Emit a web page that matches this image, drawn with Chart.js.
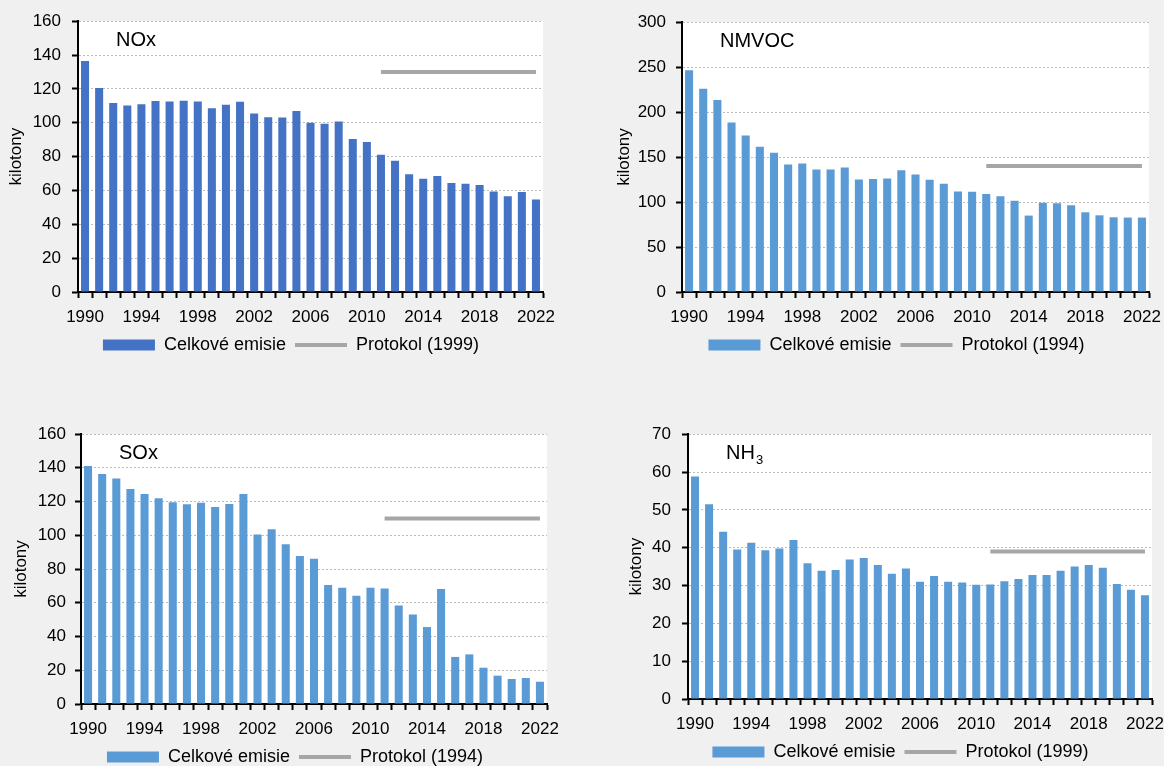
<!DOCTYPE html>
<html>
<head>
<meta charset="utf-8">
<script src="https://cdn.jsdelivr.net/npm/chart.js@4.4.1/dist/chart.umd.min.js"></script>
<style>
  html, body { margin: 0; padding: 0; background: #f0f0f0; width: 1164px; height: 766px; overflow: hidden; position: relative; }
  canvas { position: absolute; }
</style>
</head>
<body>
<canvas id="chartNox"></canvas>
<canvas id="chartNmvoc"></canvas>
<canvas id="chartSox"></canvas>
<canvas id="chartNh3"></canvas>
<script>
// Emission years (categories)
const years = ['1990','1991','1992','1993','1994','1995','1996','1997','1998','1999',
               '2000','2001','2002','2003','2004','2005','2006','2007','2008','2009',
               '2010','2011','2012','2013','2014','2015','2016','2017','2018','2019',
               '2020','2021','2022'];

// Total emissions, kilotonnes
const noxTotal   = [136.5, 120.6, 111.6, 110.2, 111.0, 112.8, 112.6, 113.0, 112.6, 108.5,
                    110.6, 112.4, 105.5, 103.3, 103.1, 106.9, 100.0, 99.4, 100.8, 90.4,
                    88.6, 81.1, 77.6, 69.5, 66.9, 68.5, 64.4, 64.0, 63.2, 59.4,
                    56.5, 59.1, 54.7];
const nmvocTotal = [246.5, 225.8, 213.3, 188.2, 173.8, 161.3, 154.6, 141.7, 142.8, 136.2,
                    136.2, 138.4, 125.1, 125.5, 126.2, 135.4, 130.6, 124.7, 120.3, 111.8,
                    111.4, 108.9, 106.3, 101.5, 84.9, 99.3, 98.5, 96.3, 88.6, 85.2,
                    83.0, 82.7, 82.7];
const soxTotal   = [141.0, 136.3, 133.7, 127.4, 124.4, 121.9, 119.5, 118.3, 119.3, 116.7,
                    118.5, 124.4, 100.5, 103.5, 94.6, 87.7, 86.1, 70.5, 68.9, 64.2,
                    68.9, 68.5, 58.3, 53.1, 45.6, 68.1, 27.9, 29.4, 21.5, 16.8,
                    14.8, 15.4, 13.2];
const nh3Total   = [58.8, 51.5, 44.2, 39.5, 41.3, 39.3, 39.8, 42.0, 35.9, 33.9,
                    34.1, 36.9, 37.3, 35.4, 33.1, 34.5, 31.0, 32.5, 31.0, 30.8,
                    30.2, 30.3, 31.1, 31.7, 32.8, 32.8, 33.9, 35.0, 35.4, 34.7,
                    30.4, 28.9, 27.4];

// Protocol ceilings (shown from 2011 onward)
const noxCeiling   = [null, null, null, null, null, null, null, null, null, null,
                      null, null, null, null, null, null, null, null, null, null,
                      null, 130, 130, 130, 130, 130, 130, 130, 130, 130, 130, 130, 130];
const nmvocCeiling = [null, null, null, null, null, null, null, null, null, null,
                      null, null, null, null, null, null, null, null, null, null,
                      null, 140, 140, 140, 140, 140, 140, 140, 140, 140, 140, 140, 140];
const soxCeiling   = [null, null, null, null, null, null, null, null, null, null,
                      null, null, null, null, null, null, null, null, null, null,
                      null, 110, 110, 110, 110, 110, 110, 110, 110, 110, 110, 110, 110];
const nh3Ceiling   = [null, null, null, null, null, null, null, null, null, null,
                      null, null, null, null, null, null, null, null, null, null,
                      null, 39, 39, 39, 39, 39, 39, 39, 39, 39, 39, 39, 39];

// Y-axis ranges
const noxAxis   = { max: 160, step: 20 };
const nmvocAxis = { max: 300, step: 50 };
const soxAxis   = { max: 160, step: 20 };
const nh3Axis   = { max: 70,  step: 10 };

const totalLabel = 'Celkové emisie';
const FONT = '"Liberation Sans", Arial, sans-serif';

// White plot background
const plotBackground = {
  id: 'plotBackground',
  beforeDraw(chart) {
    const { ctx, chartArea: a } = chart;
    ctx.save();
    ctx.fillStyle = '#ffffff';
    ctx.fillRect(a.left, a.top, a.right - a.left, a.bottom - a.top);
    ctx.restore();
  }
};

// Pollutant name inside the plot, with optional subscript
const pollutantLabel = {
  id: 'pollutantLabel',
  afterDraw(chart, args, opts) {
    if (!opts || !opts.text) return;
    const { ctx, chartArea: a } = chart;
    ctx.save();
    ctx.fillStyle = '#000';
    ctx.textBaseline = 'middle';
    ctx.font = `20px ${FONT}`;
    const x = a.left + opts.dx, y = a.top + opts.dy;
    ctx.fillText(opts.text, x, y);
    if (opts.sub) {
      const w = ctx.measureText(opts.text).width;
      ctx.font = `13px ${FONT}`;
      ctx.fillText(opts.sub, x + w + 1, y + 7);
    }
    ctx.restore();
  }
};

function makePanel(cfg) {
  const el = document.getElementById(cfg.id);
  el.width = cfg.box.w; el.height = cfg.box.h;
  el.style.left = cfg.box.x + 'px'; el.style.top = cfg.box.y + 'px';
  return new Chart(el, {
    data: {
      labels: years,
      datasets: [
        {
          type: 'bar', label: totalLabel, data: cfg.total,
          backgroundColor: cfg.color, borderWidth: 0,
          barPercentage: 0.57, categoryPercentage: 1.0, order: 2
        },
        {
          type: 'line', label: cfg.ceilingLabel, data: cfg.ceiling,
          borderColor: '#a6a6a6', backgroundColor: '#a6a6a6', borderWidth: 4,
          pointRadius: 0, pointHoverRadius: 0, spanGaps: false, order: 1,
          pointStyle: 'line'
        }
      ]
    },
    options: {
      responsive: false, animation: false, devicePixelRatio: 1,
      layout: { padding: { top: cfg.padTop, left: 0, right: 0, bottom: 0 } },
      plugins: {
        tooltip: { enabled: false },
        pollutantLabel: { text: cfg.name, sub: cfg.sub, dx: 38, dy: 19 },
        legend: {
          position: 'bottom',
          labels: {
            color: '#000', font: { family: FONT, size: 18 },
            usePointStyle: true, pointStyleWidth: 52, boxHeight: 11, padding: 9,
            sort: (a, b) => a.datasetIndex - b.datasetIndex,
            generateLabels(chart) {
              const items = Chart.defaults.plugins.legend.labels.generateLabels(chart);
              items.forEach(it => {
                if (it.datasetIndex === 0) {
                  it.pointStyle = 'rect'; it.lineWidth = 0; it.fillStyle = cfg.color;
                } else {
                  it.pointStyle = 'line'; it.lineWidth = 4; it.strokeStyle = '#a6a6a6'; it.lineCap = 'butt';
                }
              });
              return items;
            }
          }
        }
      },
      scales: {
        x: {
          type: 'category',
          grid: { display: true, drawOnChartArea: false, drawTicks: true, tickLength: 6,
                  tickColor: '#000', tickWidth: 2, offset: true },
          border: { display: true, color: '#000', width: 2 },
          ticks: {
            autoSkip: false, maxRotation: 0, minRotation: 0, padding: 9,
            color: '#000', font: { family: FONT, size: 17 },
            callback(v, i) { return (i % 4 === 0) ? years[i] : ''; }
          },
          afterFit(s) { s.height = cfg.xH; }
        },
        y: {
          min: 0, max: cfg.axis.max,
          grid: { color: '#bcbcbc', lineWidth: 1, drawTicks: true, tickLength: 6,
                  tickColor: '#000', tickWidth: 2 },
          border: { display: true, color: '#000', width: 2, dash: [2, 2] },
          ticks: { stepSize: cfg.axis.step, padding: cfg.tickPad, color: '#000',
                   font: { family: FONT, size: 17 } },
          title: { display: true, text: 'kilotony', color: '#000',
                   font: { family: FONT, size: 17 }, padding: { top: 5, bottom: 0 } },
          afterFit(s) { s.width = cfg.yW; }
        },
        yRight: {
          position: 'right', display: true,
          grid: { display: false, drawTicks: false }, border: { display: false },
          ticks: { display: false },
          afterFit(s) { s.width = cfg.rightW; }
        }
      }
    },
    plugins: [plotBackground, pollutantLabel]
  });
}

makePanel({ id: 'chartNox', name: 'NOx', total: noxTotal, ceiling: noxCeiling,
  ceilingLabel: 'Protokol (1999)', color: '#4472c4', axis: noxAxis,
  box: { x: 1, y: 0, w: 580, h: 364 }, padTop: 21, yW: 77, rightW: 38, tickPad: 11, xH: 35 });

makePanel({ id: 'chartNmvoc', name: 'NMVOC', total: nmvocTotal, ceiling: nmvocCeiling,
  ceilingLabel: 'Protokol (1994)', color: '#5b9bd5', axis: nmvocAxis,
  box: { x: 609, y: 1, w: 575, h: 363 }, padTop: 21, yW: 73, rightW: 35, tickPad: 10, xH: 35 });

makePanel({ id: 'chartSox', name: 'SOx', total: soxTotal, ceiling: soxCeiling,
  ceilingLabel: 'Protokol (1994)', color: '#5b9bd5', axis: soxAxis,
  box: { x: 6, y: 413, w: 578, h: 363 }, padTop: 21, yW: 75, rightW: 37, tickPad: 9, xH: 35 });

makePanel({ id: 'chartNh3', name: 'NH', sub: '3', total: nh3Total, ceiling: nh3Ceiling,
  ceilingLabel: 'Protokol (1999)', color: '#5b9bd5', axis: nh3Axis,
  box: { x: 621, y: 413, w: 559, h: 358 }, padTop: 21, yW: 67, rightW: 28, tickPad: 11, xH: 35 });
</script>
</body>
</html>
